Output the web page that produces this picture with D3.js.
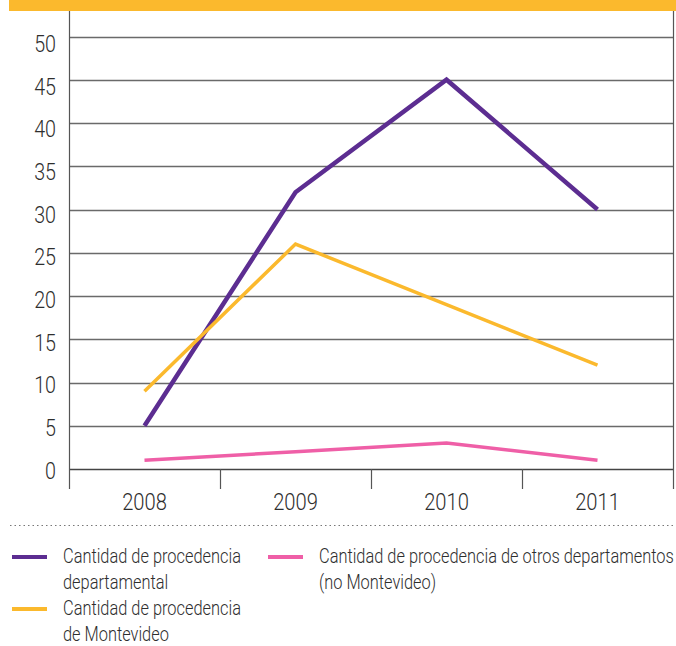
<!DOCTYPE html>
<html><head><meta charset="utf-8">
<script src="https://cdn.jsdelivr.net/npm/d3@7"></script>
<style>body{margin:0;background:#fff}svg{display:block}text{font-family:"Roboto","Noto Sans",sans-serif;fill:#2e2e2e}</style>
</head><body>
<svg id="c" width="676" height="646"></svg>
<script>
const years = ["2008","2009","2010","2011"];
const departamental = [5, 32, 45, 30];
const montevideo = [9, 26, 19, 12];
const otros = [1, 2, 3, 1];
const yTicks = [0,5,10,15,20,25,30,35,40,45,50];
const colors = ["#5c2d91","#fbb92d","#ef5fa7"];

(function(){
const svg = d3.select("#c");
const pLeft = 69, pRight = 673, pTop = 11, pBottom = 469;
const x = d3.scaleBand().domain(years).range([pLeft, pRight]);
const y = d3.scaleLinear().domain([0,50]).range([pBottom, 36.5]);
const yLab = d3.scaleLinear().domain([0,50]).range([470, 43.5]);

// condensed text: horizontally scaled group
function ctext(parent, tx, ty, k, str, size, anchor){
  const g = parent.append("g").attr("transform", `translate(${tx},${ty}) scale(${k},1)`);
  return g.append("text").attr("x",0).attr("y",0).attr("text-anchor",anchor||"start")
    .attr("font-size",size).attr("font-weight",300).text(str);
}

svg.append("rect").attr("x",9).attr("y",0).attr("width",667).attr("height",11).attr("fill","#fbb92d");

svg.append("g").selectAll("line").data(yTicks).join("line")
  .attr("x1",pLeft).attr("x2",pRight+1).attr("y1",d=>Math.round(y(d))+0.5).attr("y2",d=>Math.round(y(d))+0.5)
  .attr("stroke",d=>d===0?"#444":"#6a6a6a").attr("stroke-width",1.3);
const ylg = svg.append("g");
yTicks.forEach(d=>ctext(ylg, 56, yLab(d)+8.5, 0.82, d, 24, "end"));

svg.append("line").attr("x1",pLeft+0.5).attr("x2",pLeft+0.5).attr("y1",pTop).attr("y2",489).attr("stroke","#555").attr("stroke-width",1.2);
svg.append("line").attr("x1",pRight+0.5).attr("x2",pRight+0.5).attr("y1",pTop).attr("y2",489).attr("stroke","#555").attr("stroke-width",1.2);
svg.append("g").selectAll("line").data(years.slice(1)).join("line")
  .attr("x1",d=>Math.round(x(d))+0.5).attr("x2",d=>Math.round(x(d))+0.5).attr("y1",pBottom).attr("y2",489)
  .attr("stroke","#555").attr("stroke-width",1.2);
const xlg = svg.append("g");
years.forEach(d=>ctext(xlg, x(d)+x.bandwidth()/2, 510, 0.84, d, 24, "middle"));

const line = d3.line().x((d,i)=>x(years[i])+x.bandwidth()/2).y(d=>y(d));
[[departamental,4.5],[montevideo,3.5],[otros,3.5]].forEach(([s,w],i)=>{
  svg.append("path").datum(s).attr("d",line).attr("fill","none").attr("stroke",colors[i]).attr("stroke-width",w);
});

svg.append("line").attr("x1",10).attr("x2",676).attr("y1",525.5).attr("y2",525.5).attr("stroke","#777").attr("stroke-width",1).attr("stroke-dasharray","1.5,3");

const leg = [
  {c:colors[0], x:12, y:557, lines:["Cantidad de procedencia","departamental"]},
  {c:colors[1], x:12, y:609, lines:["Cantidad de procedencia","de Montevideo"]},
  {c:colors[2], x:268, y:557, lines:["Cantidad de procedencia de otros departamentos","(no Montevideo)"]}
];
const lg = svg.append("g");
leg.forEach(l=>{
  lg.append("line").attr("x1",l.x).attr("x2",l.x+35).attr("y1",l.y).attr("y2",l.y).attr("stroke",l.c).attr("stroke-width",4);
  l.lines.forEach((t,k)=>ctext(lg, l.x+51, l.y+6+k*25.5, 0.82, t, 20));
});
})();
</script>
</body></html>
